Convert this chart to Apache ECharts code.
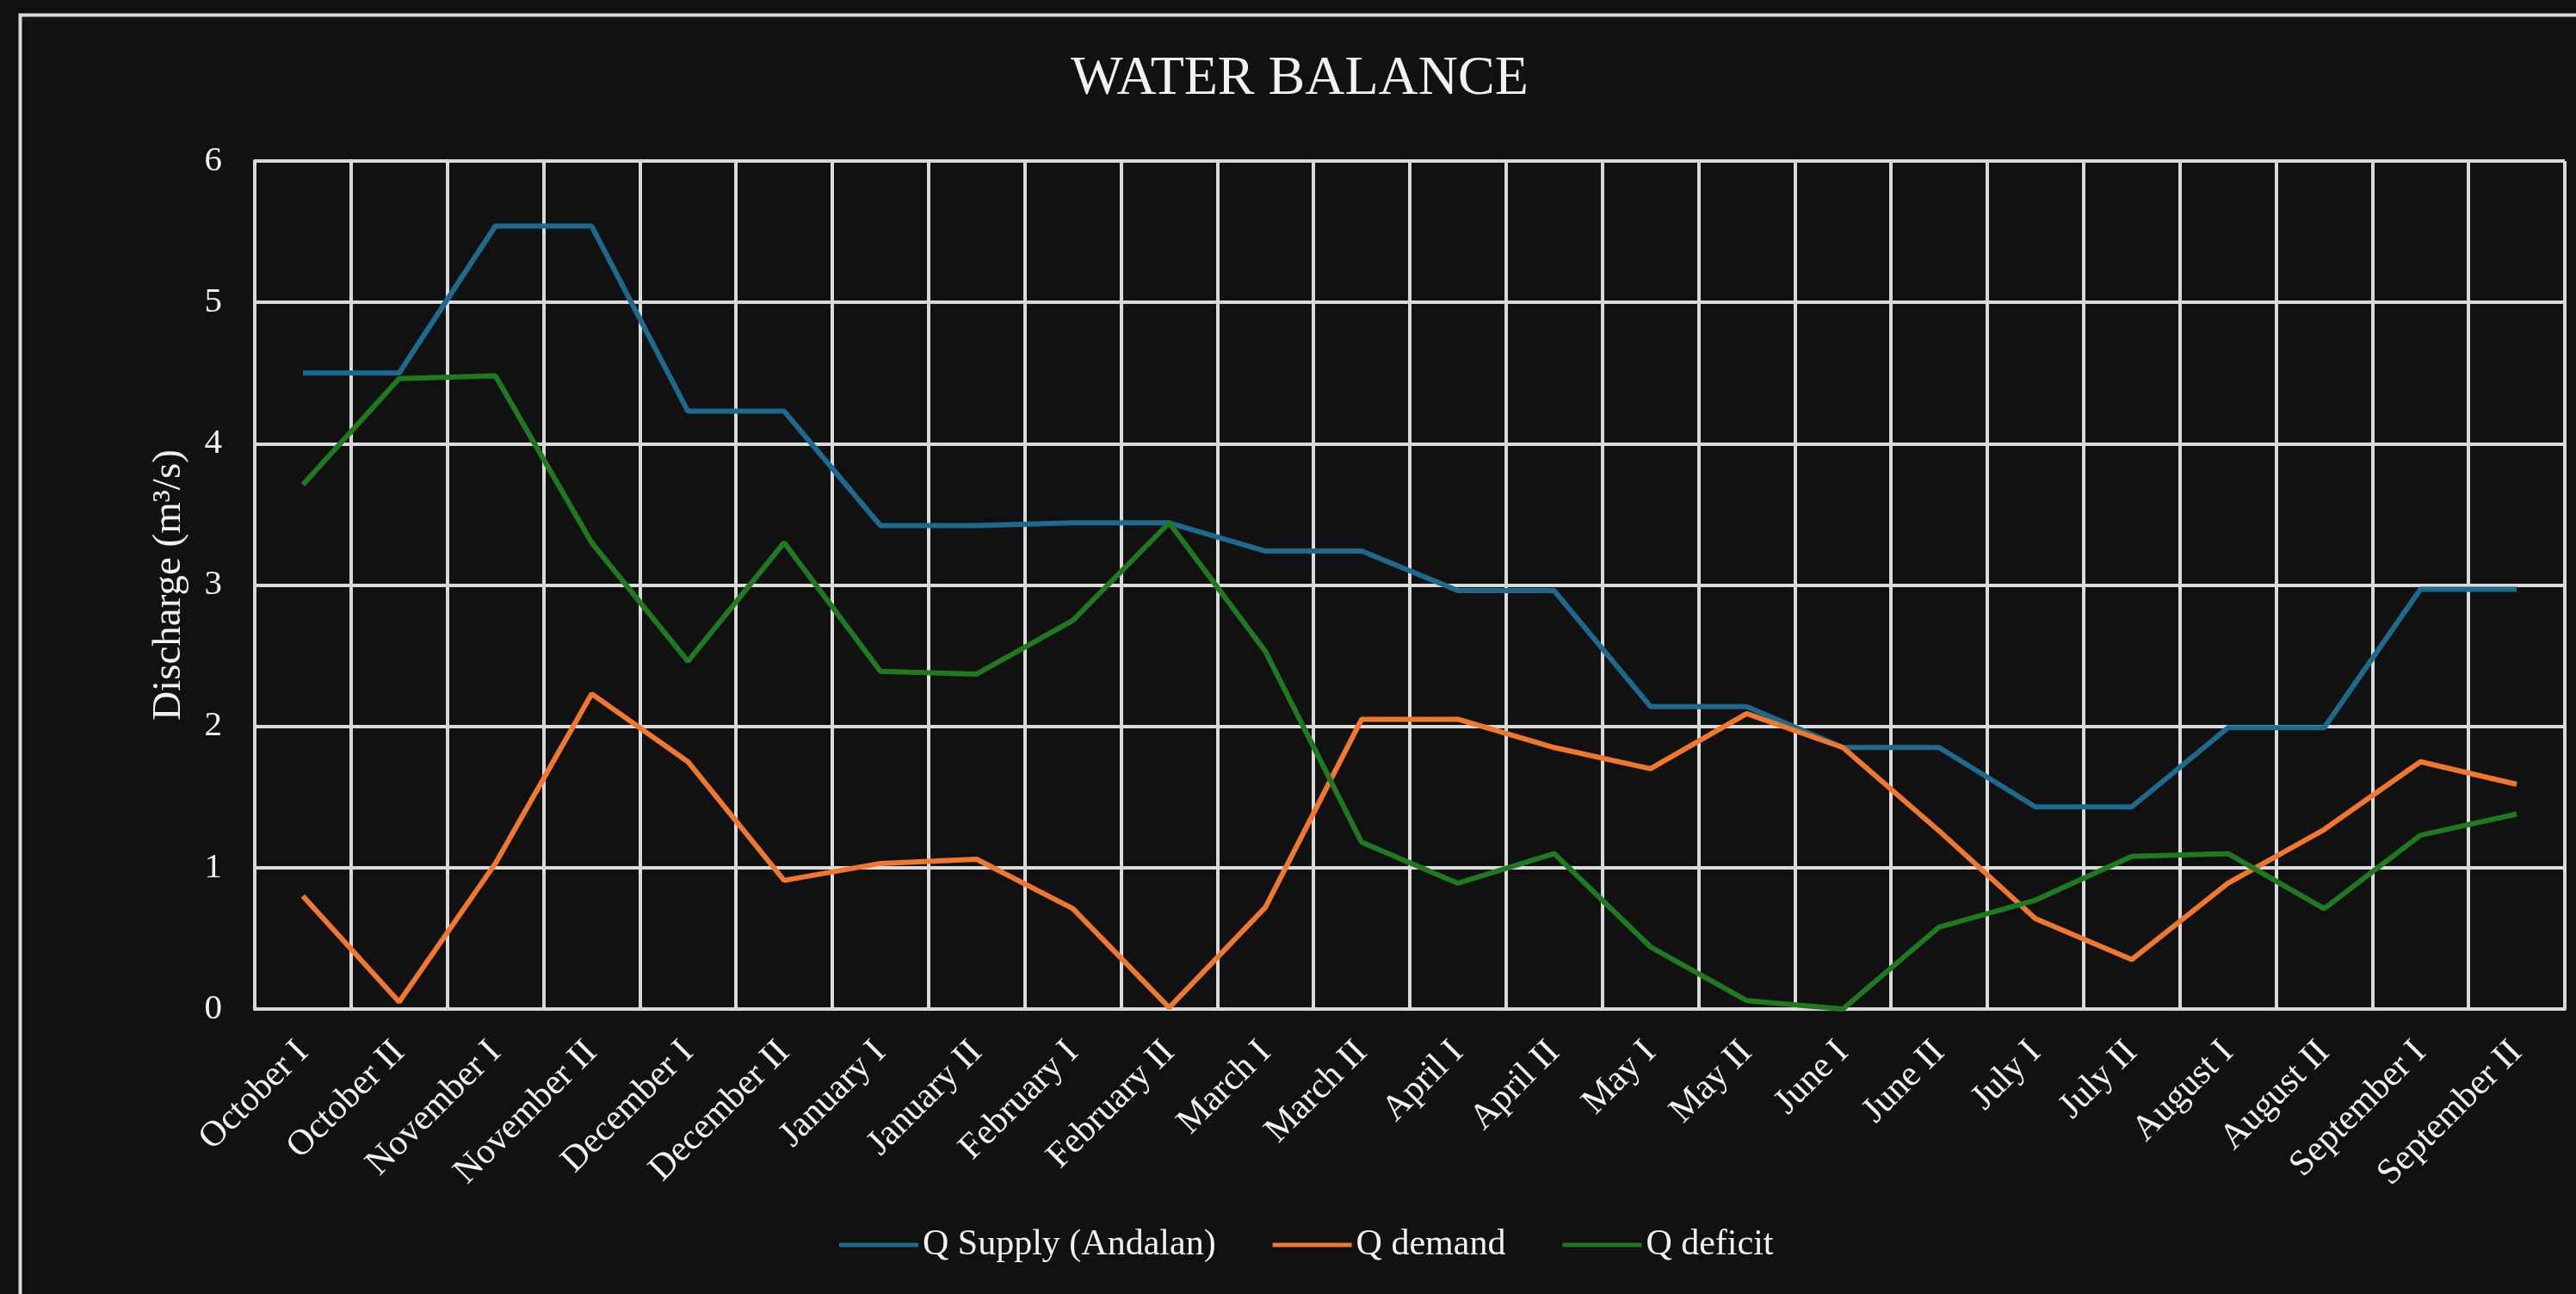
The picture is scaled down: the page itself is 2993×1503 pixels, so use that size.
<!DOCTYPE html>
<html>
<head>
<meta charset="utf-8">
<script src="https://cdn.jsdelivr.net/npm/echarts@6/dist/echarts.min.js"></script>
<style>
html,body{margin:0;padding:0;background:#111111;}
#c{width:2993px;height:1503px;}
</style>
</head>
<body>
<div id="c"></div>
<script>
const categories = ["October I","October II","November I","November II","December I","December II","January I","January II","February I","February II","March I","March II","April I","April II","May I","May II","June I","June II","July I","July II","August I","August II","September I","September II"];
const supply = [4.50,4.50,5.54,5.54,4.23,4.23,3.42,3.42,3.44,3.44,3.24,3.24,2.96,2.96,2.14,2.14,1.85,1.85,1.43,1.43,1.99,1.99,2.97,2.97];
const demand = [0.80,0.05,1.03,2.23,1.75,0.91,1.03,1.06,0.71,0.01,0.72,2.05,2.05,1.85,1.70,2.09,1.85,1.26,0.64,0.35,0.89,1.27,1.75,1.59];
const deficit = [3.71,4.46,4.48,3.30,2.46,3.30,2.39,2.37,2.75,3.44,2.53,1.18,0.89,1.10,0.44,0.06,0.00,0.58,0.77,1.08,1.10,0.71,1.23,1.38];
const seriesNames = ["Q Supply (Andalan)","Q demand","Q deficit"];
const yTicks = [0,1,2,3,4,5,6];

const font = "'Liberation Serif','Times New Roman',serif";
const txt = "#f2f2f2";
const gridC = "#d9d9d9";
const chart = echarts.init(document.getElementById('c'));
chart.setOption({
  backgroundColor: '#111111',
  animation: false,
  title: {
    text: 'WATER BALANCE',
    left: 1505, textAlign: 'center', top: 55,
    textStyle: {fontFamily: font, fontSize: 64, fontWeight: 'normal', color: txt}
  },
  graphic: [{
    type: 'rect', left: 21, top: 15,
    shape: {width: 3100, height: 1700},
    style: {fill: 'none', stroke: gridC, lineWidth: 4}
  }],
  legend: {
    left: 970, top: 1420,
    icon: 'rect', itemWidth: 92, itemHeight: 5, itemGap: 66,
    textStyle: {fontFamily: font, fontSize: 42, color: txt},
    data: seriesNames
  },
  grid: {left: 296, right: 13, top: 187, bottom: 331},
  xAxis: {
    type: 'category', data: categories, boundaryGap: true,
    axisLine: {show: true, lineStyle: {color: gridC, width: 4}},
    axisTick: {show: false},
    splitLine: {show: true, lineStyle: {color: gridC, width: 4}},
    axisLabel: {rotate: 45, interval: 0, margin: 44, fontFamily: font, fontSize: 42, color: txt}
  },
  yAxis: {
    type: 'value', min: 0, max: 6, interval: 1,
    name: 'Discharge (m³/s)', nameLocation: 'middle', nameGap: 76,
    nameTextStyle: {fontFamily: font, fontSize: 47, color: txt},
    axisLine: {show: true, lineStyle: {color: gridC, width: 4}},
    axisTick: {show: false},
    splitLine: {show: true, lineStyle: {color: gridC, width: 4}},
    axisLabel: {margin: 38, fontFamily: font, fontSize: 41, color: txt,
      formatter: v => yTicks.includes(v) ? String(v) : ''}
  },
  series: [
    {name: seriesNames[0], type: 'line', data: supply, symbol: 'none', lineStyle: {color: '#1d6a8e', width: 6}, itemStyle: {color: '#1d6a8e'}},
    {name: seriesNames[1], type: 'line', data: demand, symbol: 'none', lineStyle: {color: '#f0772e', width: 6}, itemStyle: {color: '#f0772e'}},
    {name: seriesNames[2], type: 'line', data: deficit, symbol: 'none', lineStyle: {color: '#1f7a1f', width: 6}, itemStyle: {color: '#1f7a1f'}}
  ]
});
</script>
</body>
</html>
